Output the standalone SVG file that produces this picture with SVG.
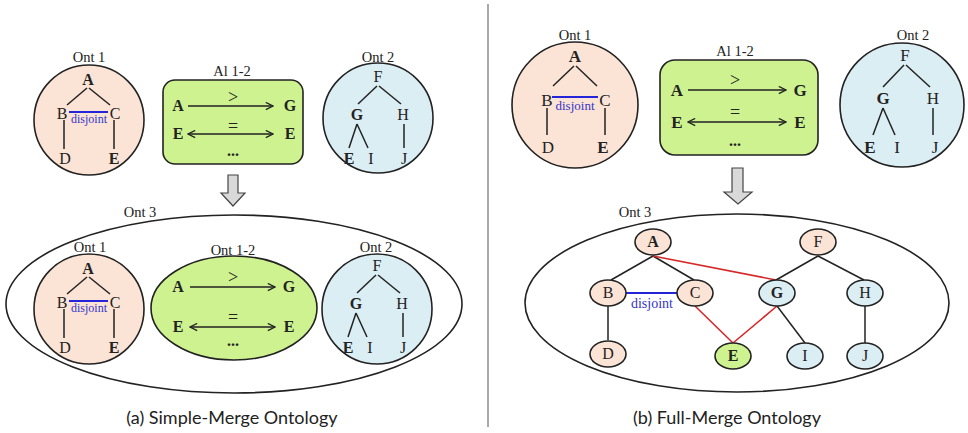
<svg xmlns="http://www.w3.org/2000/svg" width="968" height="433" viewBox="0 0 968 433">
<defs>
<style>
.t{font-family:"Liberation Serif","DejaVu Serif",serif;font-size:16px;fill:#222;text-anchor:middle}
.tb{font-weight:bold}
.r{font-size:17px}
.op{font-size:18px}
.lbl{font-family:"Liberation Serif","DejaVu Serif",serif;font-size:14.5px;fill:#222;text-anchor:middle}
.dj{font-family:"Liberation Serif","DejaVu Serif",serif;font-size:12px;fill:#3535c8;text-anchor:middle}
.cap{font-family:Lato,"Open Sans",sans-serif;font-size:18px;fill:#222;text-anchor:middle}
.ln{stroke:#222;stroke-width:1.5;fill:none}
.red{stroke:#d62828;stroke-width:1.6;fill:none}
.blue{stroke:#2424d8;stroke-width:2;fill:none}
.peach{fill:#fbe4d5;stroke:#222;stroke-width:1.6}
.lblue{fill:#dbeef4;stroke:#222;stroke-width:1.6}
.green{fill:#cdf28f;stroke:#222;stroke-width:1.6}
.gray{fill:#d9d9d9;stroke:#444;stroke-width:1.2}
.outer{fill:#fff;stroke:#222;stroke-width:1.6}
.arr{stroke:#222;stroke-width:1.4;fill:none}
</style>
<marker id="ah" viewBox="0 0 10 10" refX="9" refY="5" markerWidth="9" markerHeight="9" markerUnits="userSpaceOnUse" orient="auto-start-reverse">
<path d="M1,1 L9,5 L1,9" fill="none" stroke="#222" stroke-width="1.4"/>
</marker>
<g id="ont1small">
<text class="t tb" x="88" y="85">A</text>
<line class="ln" x1="87" y1="88" x2="67" y2="105"/>
<line class="ln" x1="89" y1="88" x2="110" y2="105"/>
<text class="t" x="62" y="119">B</text>
<text class="t" x="115" y="119">C</text>
<line class="blue" x1="69" y1="112" x2="108" y2="112"/>
<text class="dj" x="89" y="123">disjoint</text>
<line class="ln" x1="64" y1="120" x2="64" y2="149"/>
<line class="ln" x1="114" y1="120" x2="114" y2="149"/>
<text class="t" x="65" y="164">D</text>
<text class="t tb" x="114" y="164">E</text>
</g>
<g id="ont2small">
<text class="t" x="378" y="82">F</text>
<line class="ln" x1="377" y1="86" x2="358" y2="104"/>
<line class="ln" x1="379" y1="86" x2="401" y2="104"/>
<text class="t tb" x="357" y="120">G</text>
<text class="t" x="403" y="120">H</text>
<line class="ln" x1="357" y1="124" x2="349" y2="148"/>
<line class="ln" x1="357" y1="124" x2="368" y2="148"/>
<line class="ln" x1="404" y1="124" x2="404" y2="148"/>
<text class="t tb" x="349" y="164">E</text>
<text class="t" x="371" y="164">I</text>
<text class="t" x="404" y="164">J</text>
</g>
</defs>

<line x1="488" y1="4" x2="488" y2="427" stroke="#555" stroke-width="1"/>

<!-- ===== Left panel (a) ===== -->
<g id="a-ont1">
<text class="lbl" x="89" y="62">Ont 1</text>
<circle class="peach" cx="89" cy="120" r="55"/>
<use href="#ont1small"/>
</g>
<g id="a-al12">
<text class="lbl" x="232" y="76">Al 1-2</text>
<rect class="green" x="163" y="80" width="140" height="84" rx="12"/>
<text class="t tb" x="178" y="111">A</text>
<text class="t op" x="233" y="103">&gt;</text>
<text class="t tb" x="290" y="111">G</text>
<text class="t tb" x="178" y="139">E</text>
<text class="t op" x="233" y="132">=</text>
<text class="t tb" x="290" y="139">E</text>
<text class="t tb" x="233" y="156">...</text>
</g>
<g id="a-ont2">
<text class="lbl" x="378" y="62">Ont 2</text>
<circle class="lblue" cx="378" cy="118" r="55"/>
<use href="#ont2small"/>
</g>
<g id="a-arrow">
<polygon class="gray" points="228,175 238,175 238,193 245,193 233,206 221,193 228,193"/>
</g>
<g id="a-ont3">
<ellipse class="outer" cx="234" cy="304" rx="228" ry="89"/>
<text class="lbl" x="140" y="217">Ont 3</text>
</g>
<g id="a-ont3-ont1">
<text class="lbl" x="90" y="252">Ont 1</text>
<circle class="peach" cx="89" cy="309" r="55"/>
<use href="#ont1small" transform="translate(0,189)"/>
</g>
<g id="a-ont3-ont12">
<text class="lbl" x="233" y="255">Ont 1-2</text>
<ellipse class="green" cx="234" cy="308" rx="83" ry="52"/>
<text class="t tb" x="178" y="292">A</text>
<text class="t op" x="233" y="283">&gt;</text>
<text class="t tb" x="289" y="292">G</text>
<text class="t tb" x="178" y="332">E</text>
<text class="t op" x="233" y="323">=</text>
<text class="t tb" x="289" y="332">E</text>
<text class="t tb" x="233" y="346">...</text>
</g>
<g id="a-ont3-ont2">
<text class="lbl" x="376" y="252">Ont 2</text>
<circle class="lblue" cx="377" cy="309" r="55"/>
<use href="#ont2small" transform="translate(-1,189)"/>
</g>
<text class="cap" x="232" y="424">(a) Simple-Merge Ontology</text>

<!-- ===== Right panel (b) ===== -->
<g id="b-ont1">
<text class="lbl" x="575" y="40">Ont 1</text>
<circle class="peach" cx="575" cy="105" r="63"/>
<text class="t tb r" x="575" y="62">A</text>
<line class="ln" x1="574" y1="66" x2="553" y2="86"/>
<line class="ln" x1="576" y1="66" x2="597" y2="86"/>
<text class="t r" x="547" y="106">B</text>
<text class="t r" x="605" y="106">C</text>
<line class="blue" x1="552" y1="97" x2="598" y2="97"/>
<text class="dj" x="575" y="110" style="font-size:13px">disjoint</text>
<line class="ln" x1="547" y1="108" x2="547" y2="135"/>
<line class="ln" x1="605" y1="108" x2="605" y2="135"/>
<text class="t r" x="548" y="153">D</text>
<text class="t tb r" x="603" y="153">E</text>
</g>
<g id="b-al12">
<text class="lbl" x="735" y="56">Al 1-2</text>
<rect class="green" x="660" y="60" width="158" height="95" rx="15"/>
<text class="t tb r" x="677" y="96">A</text>
<text class="t op" x="735" y="86">&gt;</text>
<text class="t tb r" x="800" y="96">G</text>
<text class="t tb r" x="677" y="128">E</text>
<text class="t op" x="735" y="118">=</text>
<text class="t tb r" x="800" y="128">E</text>
<text class="t tb" x="735" y="146">...</text>
</g>
<g id="b-ont2">
<text class="lbl" x="913" y="40">Ont 2</text>
<circle class="lblue" cx="902" cy="105" r="62"/>
<text class="t r" x="905" y="61">F</text>
<line class="ln" x1="904" y1="65" x2="883" y2="87"/>
<line class="ln" x1="906" y1="65" x2="930" y2="87"/>
<text class="t tb r" x="883" y="104">G</text>
<text class="t r" x="933" y="104">H</text>
<line class="ln" x1="883" y1="108" x2="873" y2="135"/>
<line class="ln" x1="883" y1="108" x2="895" y2="135"/>
<line class="ln" x1="933" y1="108" x2="933" y2="135"/>
<text class="t tb r" x="870" y="153">E</text>
<text class="t r" x="897" y="153">I</text>
<text class="t r" x="935" y="153">J</text>
</g>
<g id="b-arrow">
<polygon class="gray" points="732,168 743,168 743,192 752,192 738,204 724,192 732,192"/>
</g>
<g id="b-ont3">
<ellipse class="outer" cx="737" cy="303" rx="212" ry="89"/>
<text class="lbl" x="635" y="217">Ont 3</text>
</g>

<!-- connectors -->
<g id="connectors">
<line class="arr" x1="188" y1="106" x2="273" y2="106" marker-end="url(#ah)"/>
<line class="arr" x1="188" y1="134" x2="273" y2="134" marker-start="url(#ah)" marker-end="url(#ah)"/>
<line class="arr" x1="190" y1="287" x2="275" y2="287" marker-end="url(#ah)"/>
<line class="arr" x1="190" y1="327" x2="275" y2="327" marker-start="url(#ah)" marker-end="url(#ah)"/>
<line class="arr" x1="688" y1="90" x2="786" y2="90" marker-end="url(#ah)"/>
<line class="arr" x1="688" y1="122" x2="786" y2="122" marker-start="url(#ah)" marker-end="url(#ah)"/>
<line class="ln" x1="653" y1="256" x2="611" y2="280"/>
<line class="ln" x1="653" y1="256" x2="694" y2="280"/>
<line class="ln" x1="818" y1="256" x2="776" y2="280"/>
<line class="ln" x1="818" y1="256" x2="864" y2="280"/>
<line class="ln" x1="608" y1="306" x2="608" y2="340"/>
<line class="ln" x1="777" y1="306" x2="805" y2="343"/>
<line class="ln" x1="865" y1="306" x2="865" y2="343"/>
<line class="red" x1="653" y1="256" x2="776" y2="280"/>
<line class="red" x1="695" y1="306" x2="733" y2="343"/>
<line class="red" x1="777" y1="306" x2="733" y2="343"/>
<line class="blue" x1="626" y1="293" x2="677" y2="293"/>
<text class="dj" x="652" y="308" style="font-size:14px">disjoint</text>
</g>

<g id="n-A"><ellipse class="peach" cx="653" cy="242" rx="18" ry="13"/><text class="t tb" x="653" y="247">A</text></g>
<g id="n-F"><ellipse class="peach" cx="818" cy="242" rx="18" ry="13"/><text class="t" x="818" y="247">F</text></g>
<g id="n-B"><ellipse class="peach" cx="608" cy="293" rx="18" ry="13"/><text class="t" x="608" y="298">B</text></g>
<g id="n-C"><ellipse class="peach" cx="695" cy="293" rx="18" ry="13"/><text class="t" x="695" y="298">C</text></g>
<g id="n-G"><ellipse class="lblue" cx="777" cy="293" rx="18" ry="13"/><text class="t tb" x="777" y="298">G</text></g>
<g id="n-H"><ellipse class="lblue" cx="865" cy="293" rx="18" ry="13"/><text class="t" x="865" y="298">H</text></g>
<g id="n-D"><ellipse class="peach" cx="608" cy="354" rx="18" ry="13"/><text class="t" x="608" y="359">D</text></g>
<g id="n-E"><ellipse class="green" cx="733" cy="356" rx="18" ry="13"/><text class="t tb" x="733" y="361">E</text></g>
<g id="n-I"><ellipse class="lblue" cx="805" cy="356" rx="18" ry="13"/><text class="t" x="805" y="361">I</text></g>
<g id="n-J"><ellipse class="lblue" cx="865" cy="356" rx="18" ry="13"/><text class="t" x="865" y="361">J</text></g>

<text class="cap" x="727" y="424">(b) Full-Merge Ontology</text>
</svg>
